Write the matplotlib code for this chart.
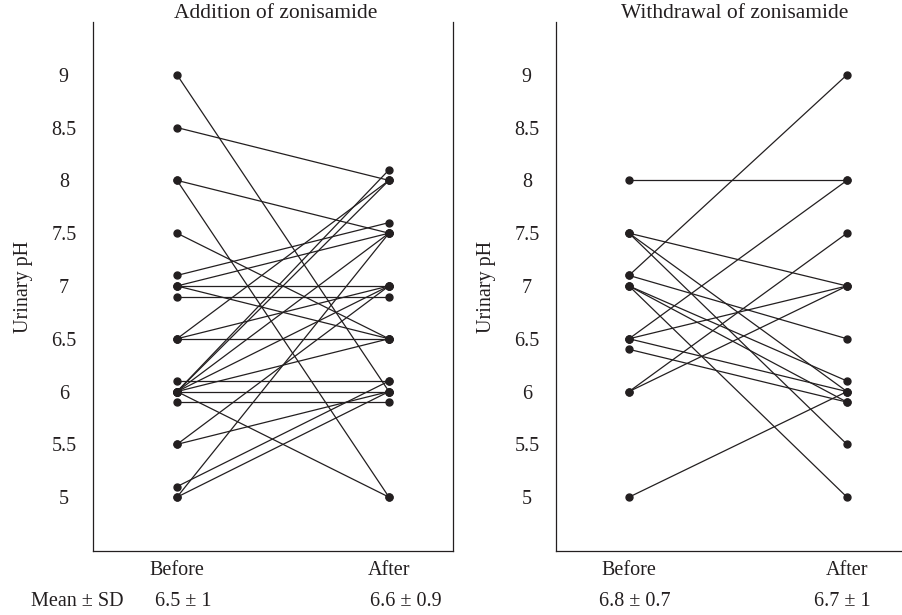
import matplotlib
matplotlib.use("Agg")
import matplotlib.pyplot as plt

plt.rcParams['font.family'] = ['Liberation Serif', 'DejaVu Serif']

# Addition of zonisamide: urinary pH before -> after, one pair per patient
add_before = [9.0, 8.5, 8.0, 8.0, 7.5, 7.1, 7.0, 7.0, 7.0, 6.9, 6.5, 6.5, 6.5, 6.1,
              6.0, 6.0, 6.0, 6.0, 6.0, 6.0, 6.0, 5.9, 5.5, 5.5, 5.1, 5.0, 5.0]
add_after = [6.0, 8.0, 7.5, 5.0, 6.5, 7.6, 7.5, 7.0, 6.5, 6.9, 8.0, 7.0, 6.5, 6.1,
             8.1, 8.0, 7.5, 7.0, 6.5, 6.0, 5.0, 5.9, 7.0, 6.0, 6.1, 7.5, 6.0]

# Withdrawal of zonisamide
wd_before = [8.0, 7.5, 7.5, 7.5, 7.1, 7.1, 7.0, 7.0, 7.0, 6.5, 6.5, 6.5, 6.4, 6.0, 6.0, 5.0]
wd_after = [8.0, 7.0, 6.0, 5.5, 9.0, 6.5, 6.1, 5.9, 5.0, 8.0, 7.0, 6.0, 5.9, 7.5, 7.0, 6.0]

titles = ['Addition of zonisamide', 'Withdrawal of zonisamide']
x_labels = ['Before', 'After']
mean_sd = [['6.5 ± 1', '6.6 ± 0.9'], ['6.8 ± 0.7', '6.7 ± 1']]
yticks = [5, 5.5, 6, 6.5, 7, 7.5, 8, 8.5, 9]

ink = '#231f20'
fs = 14.5
W, H = 903, 615
fig = plt.figure(figsize=(W / 100, H / 100), dpi=100)

# panel boxes in pixels: (left, right, x of Before, x of After)
panels = [(93, 453, 177, 389), (556, 903, 629, 847)]
top, bottom = 22, 551
data = [(add_before, add_after), (wd_before, wd_after)]

for i, ((l, r, xb, xa), (bef, aft)) in enumerate(zip(panels, data)):
    ax = fig.add_axes([l / W, 1 - bottom / H, (r - l) / W, (bottom - top) / H])
    for b, a in zip(bef, aft):
        ax.plot([0, 1], [b, a], color=ink, lw=0.9, marker='o', ms=5,
                mfc=ink, mec=ink, solid_capstyle='butt')
    unit = xa - xb
    ax.set_xlim((l - xb) / unit, (r - xb) / unit)
    ax.set_ylim(4.49, 9.5)
    ax.set_yticks(yticks)
    ax.set_yticklabels([f'{t:g}' for t in yticks], ha='center')
    ax.set_xticks([0, 1])
    ax.set_xticklabels(x_labels)
    ax.tick_params(axis='both', length=0, labelsize=fs, colors=ink)
    ax.tick_params(axis='y', pad=21)
    ax.tick_params(axis='x', pad=7)
    ax.set_ylabel('Urinary pH', fontsize=fs, color=ink, labelpad=13)
    ax.spines['top'].set_visible(False)
    if i == 1:
        ax.spines['right'].set_visible(False)
    for s in ax.spines.values():
        s.set_color(ink)
        s.set_linewidth(0.9)
    fig.text(((l + r) / 2 + 3 if i == 0 else 735) / W, 1 - 13 / H, titles[i],
             ha='center', va='center', fontsize=fs + 1, color=ink)
    for k, xp in enumerate([xb + 6, xa + 17 if i == 0 else xa - 5]):
        fig.text(xp / W, 1 - 602 / H, mean_sd[i][k], ha='center', va='center',
                 fontsize=fs, color=ink)

fig.text(77 / W, 1 - 602 / H, 'Mean ± SD', ha='center', va='center', fontsize=fs, color=ink)

fig.savefig('out.png', dpi=100)
